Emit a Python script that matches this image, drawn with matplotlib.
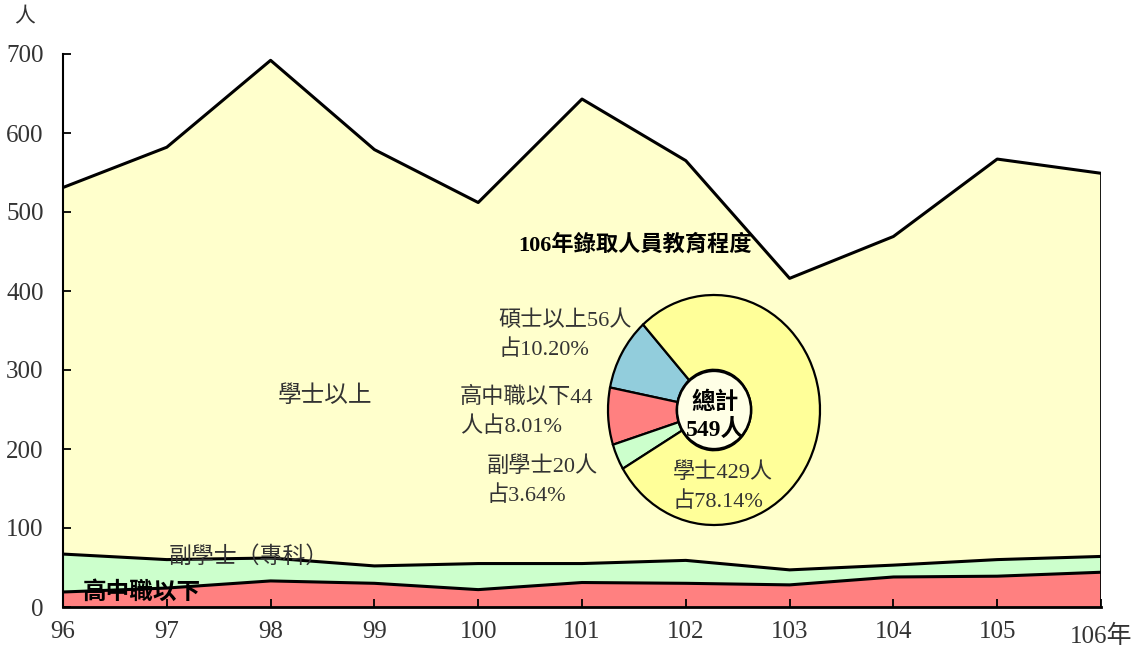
import numpy as np
import matplotlib.pyplot as plt
from matplotlib.patches import Ellipse

plt.rcParams['font.family'] = ['Liberation Serif', 'Noto Sans CJK TC']

years = [96, 97, 98, 99, 100, 101, 102, 103, 104, 105, 106]
year_labels = ['96', '97', '98', '99', '100', '101', '102', '103', '104', '105', '106年']
high_school = np.array([19, 24, 33, 30, 22, 31, 30, 28, 38, 39, 44])
associate = np.array([48, 36, 29, 22, 33, 24, 29, 19, 15, 21, 20])
total = np.array([531, 582, 692, 579, 512, 643, 565, 416, 469, 567, 549])
bachelor_up = total - high_school - associate

pie_names = ['碩士以上', '高中職以下', '副學士', '學士']
pie_values = [56, 44, 20, 429]
pie_colors = ['#92CDDC', '#FF8080', '#CCFFCC', '#FFFF99']

W, H = 1141, 651
fig = plt.figure(figsize=(W / 100, H / 100), dpi=100)
ax = fig.add_axes([63 / W, 1 - 607 / H, (1101 - 63) / W, (607 - 54) / H])

ax.stackplot(years, high_school, associate, bachelor_up,
             colors=['#FF8080', '#CCFFCC', '#FFFFCC'], linewidth=0)
c1 = high_school
c2 = high_school + associate
ax.plot(years, c1, color='black', lw=2.2)
ax.plot(years, c2, color='black', lw=2.2)
ax.plot(years, total, color='black', lw=2.2)
ax.plot([years[-1], years[-1]], [0, total[-1]], color='black', lw=2)

ax.set_xlim(years[0], years[-1])
ax.set_ylim(0, 700)
ax.spines['top'].set_visible(False)
ax.spines['right'].set_visible(False)
ax.spines['left'].set_linewidth(1.5)
ax.spines['bottom'].set_linewidth(2)
ax.set_yticks(range(0, 701, 100))
ax.set_xticks(years)
ax.set_xticklabels(year_labels)
ax.tick_params(axis='y', direction='in', length=6, width=1.3, pad=14,
               labelsize=18, labelcolor='#333333')
ax.tick_params(axis='x', direction='in', length=6, width=1.3, pad=10,
               labelsize=18, labelcolor='#333333')
ax.get_xticklabels()[-1].set_y(-0.008)

tc = '#333333'
fig.text(25 / W, 1 - 18 / H, '人', fontsize=15, ha='center', va='center', color=tc)

fig.text(325 / W, 1 - 396 / H, '學士以上', fontsize=17, ha='center', va='center', color=tc)
fig.text(249 / W, 1 - 557 / H, '副學士（專科）', fontsize=16.5, ha='center', va='center', color=tc)
fig.text(142 / W, 1 - 592 / H, '高中職以下', fontsize=17, ha='center', va='center',
         color='black', fontweight='bold')

# donut inset
rx, ry = 106, 115
cx, cy = 714, 410
lim = 1.02
pax = fig.add_axes([(cx - rx * lim) / W, 1 - (cy + ry * lim) / H,
                    2 * rx * lim / W, 2 * ry * lim / H])
pax.pie(pie_values, colors=pie_colors, startangle=132, counterclock=True,
        radius=1, wedgeprops=dict(width=0.65, edgecolor='black', linewidth=1.6))
pax.add_patch(Ellipse((0, 0), 0.7, 0.68, facecolor='#FFFFE6', edgecolor='black', lw=1.8, zorder=5))
pax.set_aspect('auto')
pax.set_xlim(-lim, lim)
pax.set_ylim(-lim, lim)
pax.axis('off')

fig.text(cx / W + 0.001, 1 - 416 / H, '總計\n549人', fontsize=17, ha='center', va='center',
         fontweight='bold', color='black', linespacing=1.3, zorder=10)

fig.text(635 / W, 1 - 245 / H, '106年錄取人員教育程度', fontsize=16, ha='center', va='center',
         fontweight='bold', color='black')

pct = [v / sum(pie_values) * 100 for v in pie_values]
lab_kw = dict(fontsize=16, ha='left', va='center', color=tc, linespacing=1.55)
fig.text(498 / W, 1 - 335 / H, f'{pie_names[0]}{pie_values[0]}人\n占{pct[0]:.2f}%', **lab_kw)
fig.text(460 / W, 1 - 412 / H, f'{pie_names[1]}{pie_values[1]}\n人占{pct[1]:.2f}%', **lab_kw)
fig.text(487 / W, 1 - 481 / H, f'{pie_names[2]}{pie_values[2]}人\n占{pct[2]:.2f}%', **lab_kw)
fig.text(673 / W, 1 - 487 / H, f'{pie_names[3]}{pie_values[3]}人\n占{pct[3]:.2f}%',
         zorder=10, **lab_kw)

fig.savefig('out.png', dpi=100)
